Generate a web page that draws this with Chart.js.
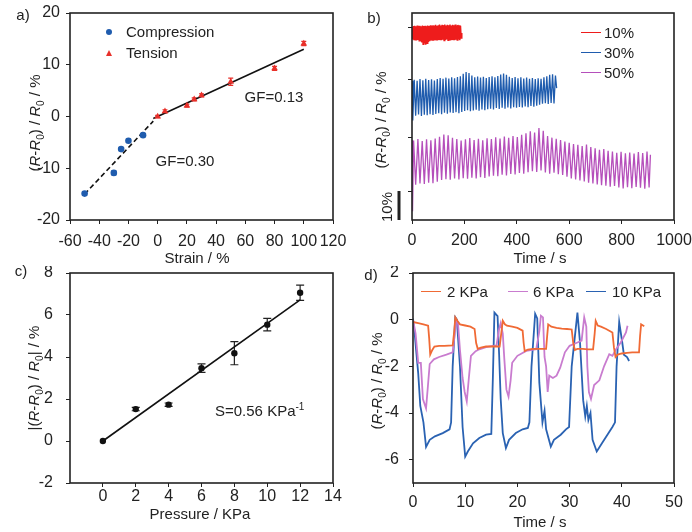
<!DOCTYPE html>
<html>
<head>
<meta charset="utf-8">
<script src="https://cdn.jsdelivr.net/npm/chart.js@4.4.1/dist/chart.umd.min.js"></script>
<style>
  body { margin: 0; background: #fff; }
  #wrap { position: relative; width: 692px; height: 532px; font-family: "Liberation Sans", Arial, sans-serif; color: #222; }
  canvas { position: absolute; }
  .t { position: absolute; font-size: 15px; white-space: nowrap; line-height: 1; }
  .c { transform: translate(-50%, -50%); }
  .v { transform: translate(-50%, -50%) rotate(-90deg); }
  .l { transform: translateY(-50%); }
  sub { font-size: 10px; vertical-align: -4px; line-height: 0; font-style: normal; }
  sup { font-size: 10px; vertical-align: 6px; line-height: 0; }
  .ln { position: absolute; height: 0; border-top: 1.8px solid; }
</style>
</head>
<body>
<div id="wrap">
  <canvas id="ca" width="346" height="266" style="left:0;top:0"></canvas>
  <canvas id="cb" width="346" height="266" style="left:346px;top:0"></canvas>
  <canvas id="cc" width="346" height="266" style="left:0;top:266px"></canvas>
  <canvas id="cd" width="346" height="266" style="left:346px;top:266px"></canvas>

  <!-- panel letters -->
  <div class="t c" style="left:23px;top:14px">a)</div>
  <div class="t c" style="left:374px;top:17px">b)</div>
  <div class="t c" style="left:21px;top:270px">c)</div>
  <div class="t c" style="left:371px;top:274px">d)</div>

  <!-- axis titles -->
  <div class="t c" style="left:197px;top:257px">Strain / %</div>
  <div class="t c" style="left:540px;top:257px">Time / s</div>
  <div class="t c" style="left:200px;top:513px">Pressure / KPa</div>
  <div class="t c" style="left:540px;top:521px">Time / s</div>
  <div class="t v" style="left:34px;top:123px">(<i>R</i>-<i>R</i><sub>0</sub>) / <i>R</i><sub>0</sub> / %</div>
  <div class="t v" style="left:380px;top:120px">(<i>R</i>-<i>R</i><sub>0</sub>) / <i>R</i><sub>0</sub> / %</div>
  <div class="t v" style="left:33px;top:378px">|(<i>R</i>-<i>R</i><sub>0</sub>) / <i>R</i><sub>0</sub>| / %</div>
  <div class="t v" style="left:376px;top:381px">(<i>R</i>-<i>R</i><sub>0</sub>) / <i>R</i><sub>0</sub> / %</div>

  <!-- annotations -->
  <div class="t c" style="left:274px;top:96px">GF=0.13</div>
  <div class="t c" style="left:185px;top:160px">GF=0.30</div>
  <div class="t l" style="left:215px;top:410px">S=0.56 KPa<sup>-1</sup></div>
  <div class="t v" style="left:386px;top:207px">10%</div>

  <!-- legend a -->
  <div style="position:absolute;left:106px;top:29px;width:6px;height:6px;border-radius:50%;background:#1f5cae"></div>
  <div style="position:absolute;left:105.5px;top:49.5px;width:0;height:0;border-left:3.5px solid transparent;border-right:3.5px solid transparent;border-bottom:6px solid #e8302a"></div>
  <div class="t l" style="left:126px;top:31px">Compression</div>
  <div class="t l" style="left:126px;top:52px">Tension</div>

  <!-- legend b -->
  <div class="ln" style="left:581px;top:32px;width:20px;border-color:#ee1c1c"></div>
  <div class="ln" style="left:581px;top:52px;width:20px;border-color:#1f5cae"></div>
  <div class="ln" style="left:581px;top:72px;width:20px;border-color:#b54fbb"></div>
  <div class="t l" style="left:604px;top:32px">10%</div>
  <div class="t l" style="left:604px;top:52px">30%</div>
  <div class="t l" style="left:604px;top:72px">50%</div>

  <!-- legend d -->
  <div class="ln" style="left:421px;top:291px;width:20px;border-color:#f06a35"></div>
  <div class="ln" style="left:508px;top:291px;width:20px;border-color:#c97ccf"></div>
  <div class="ln" style="left:586px;top:291px;width:20px;border-color:#2a62b2"></div>
  <div class="t l" style="left:447px;top:291px">2 KPa</div>
  <div class="t l" style="left:533px;top:291px">6 KPa</div>
  <div class="t l" style="left:612px;top:291px">10 KPa</div>
</div>

<script>
// ---- panel a: strain response ----
const compStrain = [-50, -30, -25, -20, -10];
const compResp   = [-14.9, -10.9, -6.3, -4.7, -3.6];
const compErr    = [0.3, 0.4, 0.3, 0.3, 0.3];
const tensStrain = [0, 5, 20, 25, 30, 50, 80, 100];
const tensResp   = [0.0, 1.0, 2.1, 3.3, 4.1, 6.7, 9.3, 14.1];
const tensErr    = [0.2, 0.3, 0.3, 0.3, 0.3, 0.7, 0.4, 0.4];
const fitCompression = [[-50, -15.0], [-3, -0.9]];
const fitTension     = [[-3, -0.4], [100, 13.0]];
const ticksAX = [-60, -40, -20, 0, 20, 40, 60, 80, 100, 120];
const ticksAY = [-20, -10, 0, 10, 20];

// ---- panel b: cycling at 10 / 30 / 50 % strain (curves offset, unitless axis) ----
const cyc10 = [[0,66.5],[2.5,62.3],[5,66.9],[7.5,62.0],[10,67.0],[12.5,62.2],[15,66.8],[17.5,61.9],[20,67.1],[22.5,62.1],
  [25,66.9],[27.5,61.8],[30,67.0],[32.5,61.6],[35,66.8],[37.5,61.2],[40,67.1],[42.5,60.6],[45,66.9],[47.5,60.9],
  [50,67.0],[52.5,60.5],[55,66.8],[57.5,61.0],[60,67.1],[62.5,61.4],[65,66.9],[67.5,61.7],[70,67.2],[72.5,61.9],
  [75,67.0],[77.5,62.1],[80,67.2],[82.5,61.8],[85,67.1],[87.5,62.0],[90,67.3],[92.5,62.2],[95,67.0],[97.5,61.9],
  [100,67.2],[102.5,62.1],[105,67.4],[107.5,62.3],[110,67.1],[112.5,62.0],[115,67.3],[117.5,62.2],[120,67.2],[122.5,61.9],
  [125,67.4],[127.5,62.1],[130,67.1],[132.5,62.3],[135,67.3],[137.5,62.0],[140,67.2],[142.5,62.2],[145,67.4],[147.5,61.9],
  [150,67.1],[152.5,62.1],[155,67.3],[157.5,62.3],[160,67.2],[162.5,62.0],[165,67.4],[167.5,62.2],[170,67.1],[172.5,62.1],
  [175,67.3],[177.5,62.3],[180,67.2],[182.5,62.0],[185,67.0],[187.5,62.8],[190,64.5]];
const cyc30 = [[0,48.0],[3,34.3],[8.5,48.4],[14,36.0],[19.5,48.0],[25,36.4],[30.5,48.6],[36,35.9],[41.5,48.2],[47,36.3],
  [52.5,48.7],[58,36.1],[63.5,48.3],[69,36.5],[74.5,48.5],[80,36.2],[85.5,48.1],[91,36.6],[96.5,48.6],[102,36.8],
  [107.5,49.0],[113,36.5],[118.5,48.7],[124,37.0],[129.5,49.1],[135,36.7],[140.5,48.8],[146,37.1],[151.5,49.2],[157,36.9],
  [162.5,48.9],[168,37.2],[173.5,49.3],[179,36.8],[184.5,49.6],[190,37.3],[195.5,50.4],[201,37.6],[206.5,51.0],[212,37.9],
  [217.5,50.7],[223,37.5],[228.5,49.8],[234,37.8],[239.5,49.2],[245,38.0],[250.5,49.5],[256,37.7],[261.5,49.1],[267,38.1],
  [272.5,49.4],[278,37.9],[283.5,49.0],[289,38.2],[294.5,49.3],[300,38.4],[305.5,49.6],[311,38.1],[316.5,49.2],[322,38.6],
  [327.5,49.7],[333,38.3],[338.5,50.2],[344,38.7],[349.5,50.5],[355,38.4],[360.5,50.1],[366,38.8],[371.5,49.4],[377,38.5],
  [382.5,49.0],[388,38.9],[393.5,49.3],[399,38.7],[404.5,48.9],[410,39.0],[415.5,49.2],[421,38.8],[426.5,48.8],[432,39.2],
  [437.5,49.1],[443,38.9],[448.5,48.7],[454,39.3],[459.5,49.0],[465,39.1],[470.5,48.6],[476,39.4],[481.5,48.9],[487,39.8],
  [492.5,48.7],[498,40.1],[503.5,49.2],[509,40.3],[514.5,49.6],[520,40.0],[525.5,50.1],[531,40.4],[536.5,50.3],[542,40.2],
  [547.5,49.8],[552,45.5]];
const cyc50 = [[0,27.5],[2,3.0],[6,27.4],[14,12.2],[22.5,27.9],[30.5,12.6],[39,27.2],[47,12.4],[55.5,27.8],[63.5,12.9],
  [72,27.5],[80,12.7],[88.5,28.1],[96.5,13.2],[105,28.7],[113,13.8],[121.5,29.5],[129.5,14.1],[138,29.2],[146,13.9],
  [154.5,28.4],[162.5,14.3],[171,27.9],[179,14.0],[187.5,27.4],[195.5,14.4],[204,27.8],[212,14.2],[220.5,28.3],[228.5,14.6],
  [237,27.6],[245,14.3],[253.5,28.0],[261.5,14.8],[270,27.5],[278,14.5],[286.5,28.2],[294.5,15.0],[303,27.9],[311,15.3],
  [319.5,28.5],[327.5,15.1],[336,28.1],[344,15.6],[352.5,28.8],[360.5,15.4],[369,28.4],[377,15.9],[385.5,29.0],[393.5,15.7],
  [402,28.6],[410,16.2],[418.5,29.4],[426.5,16.0],[435,29.9],[443,16.5],[451.5,30.6],[459.5,16.8],[468,30.2],[476,16.6],
  [484.5,31.7],[492.5,17.1],[501,30.8],[509,16.4],[517.5,29.0],[525.5,16.0],[534,28.4],[542,16.3],[550.5,28.0],[558.5,15.8],
  [567,27.6],[575,15.5],[583.5,27.1],[591.5,14.9],[600,26.6],[608,14.3],[616.5,26.2],[624.5,14.0],[633,25.9],[641,13.6],
  [649.5,25.5],[657.5,13.3],[666,26.0],[674,12.9],[682.5,25.2],[690.5,12.6],[699,24.7],[707,12.3],[715.5,24.2],[723.5,12.0],
  [732,24.5],[740,11.8],[748.5,23.9],[756.5,11.5],[765,23.6],[773,11.7],[781.5,23.2],[789.5,11.2],[798,23.5],[806,10.9],
  [814.5,23.0],[822.5,11.3],[831,23.3],[839,11.0],[847.5,22.9],[855.5,11.4],[864,23.4],[872,11.1],[880.5,23.1],[888.5,10.8],
  [897,23.6],[905,11.2],[910,22.5]];
const scaleBar10 = [0, 10];
const ticksBX = [0, 200, 400, 600, 800, 1000];
const ticksBY = [9.7, 28.6, 48.3, 66.5];

// ---- panel c: pressure sensitivity ----
const pressure   = [0, 2, 4, 6, 8, 10, 12];
const pressResp  = [0, 1.52, 1.73, 3.47, 4.18, 5.54, 7.06];
const pressErr   = [0, 0.08, 0.08, 0.2, 0.55, 0.3, 0.36];
const fitPressure = [[0, 0], [12, 6.72]];
const ticksCX = [0, 2, 4, 6, 8, 10, 12, 14];
const ticksCY = [-2, 0, 2, 4, 6, 8];

// ---- panel d: pressure cycling ----
const kpa2 = [[0,-0.1],[1,-0.15],[2,-0.2],[2.9,-0.26],[3.1,-0.8],[3.3,-1.5],[3.7,-1.3],[4.1,-1.15],[5,-1.12],[6,-1.12],
  [7.6,-1.1],[7.9,-0.5],[8.1,0.1],[8.5,-0.05],[9,-0.2],[10,-0.25],[11,-0.3],[11.8,-0.4],[12.1,-1.0],[12.4,-1.25],
  [13,-1.2],[14,-1.15],[15,-1.15],[16.6,-1.15],[16.9,-0.6],[17.2,-0.05],[17.6,-0.2],[18,-0.26],[19,-0.3],[20,-0.35],
  [21,-0.47],[21.2,-1.0],[21.4,-1.35],[22,-1.28],[23,-1.25],[24,-1.25],[25.5,-1.25],[25.7,-0.7],[25.9,-0.2],[26.5,-0.3],
  [27.5,-0.35],[28.5,-0.38],[29.5,-0.4],[30.4,-0.42],[30.7,-1.0],[31,-1.3],[31.5,-1.25],[32.5,-1.25],[33.5,-1.27],[34.5,-1.27],
  [34.8,-0.6],[35,-0.05],[35.4,-0.25],[36,-0.3],[37,-0.4],[38.2,-0.55],[38.5,-1.2],[38.8,-1.6],[39.2,-1.5],[40,-1.45],
  [41,-1.42],[42,-1.4],[43.3,-1.4],[43.5,-0.7],[43.7,-0.2],[44.3,-0.28]];
const kpa6 = [[0,0],[0.5,-0.6],[1,-1.85],[1.5,-1.85],[1.9,-3.4],[2.2,-3.6],[2.5,-3.8],[2.8,-3.0],[3.2,-1.9],[4,-1.7],
  [5,-1.6],[6.4,-1.5],[7.6,-1.4],[8,-0.6],[8.3,0],[8.6,-0.1],[9,-1.3],[9.5,-2.5],[9.9,-3.1],[10.3,-3.5],
  [10.7,-2.5],[11.1,-1.55],[12,-1.35],[12.7,-1.27],[14,-1.18],[15.3,-1.12],[16,-1.1],[16.5,-0.4],[16.8,-0.15],[17.2,-0.6],
  [17.5,-1.7],[17.9,-3.0],[18.3,-3.3],[18.7,-2.6],[19,-1.85],[20,-1.55],[21.7,-1.34],[23.6,-1.27],[24.2,-0.5],[24.5,0.17],
  [24.9,0.1],[25.2,-1.6],[25.5,-2.0],[25.8,-3.1],[26.1,-2.4],[26.8,-2.5],[27.5,-2.4],[28.2,-2.06],[29.1,-1.4],[30,-1.12],
  [31.5,-0.98],[32.3,-0.9],[32.8,0.1],[33.2,-0.3],[33.4,-2.0],[33.7,-3.1],[34.1,-3.4],[34.7,-2.8],[35.7,-2.6],[36.6,-2.0],
  [37.6,-1.48],[38.2,-1.55],[38.9,-1.27],[39.8,-0.98],[40.8,-0.55],[41.1,-0.26]];
const kpa10 = [[0,0.05],[0.3,-0.55],[1,-2.3],[1.4,-3.7],[2,-4.4],[2.5,-5.45],[3.2,-5.15],[4.2,-5.0],[5.7,-4.86],[7,-4.7],
  [7.3,-4.4],[7.6,-2.0],[8.1,0.1],[8.4,0.0],[9,-2.0],[9.5,-4.6],[10,-5.87],[10.5,-5.65],[11.5,-5.3],[12.7,-5.07],
  [14,-4.93],[15,-4.9],[15.3,-2.5],[15.6,0.3],[16.2,0.15],[16.5,-1.5],[16.8,-3.4],[17.2,-4.86],[17.8,-5.5],[18.4,-5.15],
  [19.7,-4.86],[21,-4.7],[22,-4.64],[22.3,-4.4],[22.7,-2.0],[23.4,0.25],[23.8,0.05],[24.2,-2.7],[24.8,-4.4],[25.2,-3.9],
  [25.5,-4.7],[26.4,-5.44],[27,-5.15],[28.3,-4.93],[29.3,-4.7],[29.9,-4.6],[30.4,-2.0],[31.5,0.3],[32,-1.0],[32.6,-3.45],
  [33,-4.15],[33.3,-3.7],[33.6,-4.3],[34,-4.0],[34.4,-5.15],[35.2,-5.65],[36.2,-5.3],[38.2,-4.6],[38.7,-4.4],[39,-2.0],
  [39.5,-0.1],[40.1,-1.0],[40.4,-1.5],[41,-1.6],[41.4,-1.77]];
const ticksDX = [0, 10, 20, 30, 40, 50];
const ticksDY = [-6, -4, -2, 0, 2];

const BLUE = '#1f5cae', RED = '#e8302a', RED_B = '#ee1c1c', PURPLE_B = '#b54fbb';
const ORANGE = '#f06a35', PURPLE_D = '#c97ccf', BLUE_D = '#2a62b2', INK = '#222';

Chart.defaults.font.family = '"Liberation Sans", Arial, sans-serif';
Chart.defaults.font.size = 16;
Chart.defaults.color = INK;

const toPts = (xs, ys) => xs.map((x, i) => ({ x, y: ys[i] }));
const fromPairs = arr => arr.map(([x, y]) => ({ x, y }));

// box around the plot area
const framePlugin = {
  id: 'frame',
  afterDatasetsDraw(chart) {
    const { ctx, chartArea: a } = chart;
    ctx.save();
    ctx.strokeStyle = INK;
    ctx.lineWidth = 1.6;
    ctx.setLineDash([]);
    ctx.strokeRect(a.left, a.top, a.right - a.left, a.bottom - a.top);
    ctx.restore();
  }
};

// vertical error bars from ds.errorBars
const errorBarPlugin = {
  id: 'errorBars',
  beforeDatasetsDraw(chart) {
    const { ctx, scales: { x, y } } = chart;
    chart.data.datasets.forEach(ds => {
      if (!ds.errorBars) return;
      ctx.save();
      ctx.strokeStyle = ds.errorColor || INK;
      ctx.lineWidth = 1.2;
      const w = ds.capWidth || 3;
      ds.data.forEach((p, j) => {
        const e = ds.errorBars[j];
        if (!e) return;
        const px = x.getPixelForValue(p.x);
        const top = y.getPixelForValue(p.y + e);
        const bot = y.getPixelForValue(p.y - e);
        ctx.beginPath();
        ctx.moveTo(px, top); ctx.lineTo(px, bot);
        ctx.moveTo(px - w, top); ctx.lineTo(px + w, top);
        ctx.moveTo(px - w, bot); ctx.lineTo(px + w, bot);
        ctx.stroke();
      });
      ctx.restore();
    });
  }
};

// 10% scale bar left of panel b
const scaleBarPlugin = {
  id: 'scaleBar',
  afterDraw(chart) {
    const { ctx, chartArea: a, scales: { y } } = chart;
    const x0 = a.left - 13;
    ctx.save();
    ctx.strokeStyle = INK;
    ctx.lineWidth = 3;
    ctx.beginPath();
    ctx.moveTo(x0, y.getPixelForValue(scaleBar10[0]));
    ctx.lineTo(x0, y.getPixelForValue(scaleBar10[1]));
    ctx.stroke();
    ctx.restore();
  }
};

function axis(min, max, ticks, size, pad, opts = {}) {
  return Object.assign({
    type: 'linear', min, max,
    afterBuildTicks: s => { s.ticks = ticks.map(v => ({ value: v })); },
    ticks: { padding: pad, color: INK, maxRotation: 0, minRotation: 0, autoSkip: false, callback: v => String(v) },
    grid: { drawOnChartArea: false, drawTicks: true, tickLength: 4, color: INK, lineWidth: 1 },
    border: { display: false },
    afterFit: s => {
      if (s.isHorizontal()) s.height = size; else s.width = size;
      s.paddingTop = s.paddingBottom = s.paddingLeft = s.paddingRight = 0;
    }
  }, opts);
}

function baseOptions(padding, scales) {
  return {
    responsive: false, devicePixelRatio: 1, animation: false,
    layout: { padding },
    plugins: { legend: { display: false }, tooltip: { enabled: false } },
    scales
  };
}

// ---- chart a ----
new Chart(document.getElementById('ca'), {
  type: 'scatter',
  data: { datasets: [
    { data: toPts(compStrain, compResp), errorBars: compErr, errorColor: BLUE, capWidth: 2.5,
      pointStyle: 'circle', pointRadius: 3.3, backgroundColor: BLUE, borderColor: BLUE, borderWidth: 0 },
    { data: toPts(tensStrain, tensResp), errorBars: tensErr, errorColor: RED, capWidth: 2.5,
      pointStyle: 'triangle', pointRadius: 3.8, backgroundColor: RED, borderColor: RED, borderWidth: 0 },
    { data: fromPairs(fitCompression), showLine: true, borderColor: '#111', borderWidth: 1.6, borderDash: [5, 3], pointRadius: 0 },
    { data: fromPairs(fitTension), showLine: true, borderColor: '#111', borderWidth: 1.6, pointRadius: 0 }
  ] },
  options: baseOptions({ top: 13, right: 13, left: 0, bottom: 0 }, {
    x: axis(-60, 120, ticksAX, 46, 8),
    y: axis(-20, 20, ticksAY, 70, 6)
  }),
  plugins: [framePlugin, errorBarPlugin]
});

// ---- chart b ----
const lineDs = (pairs, color, w) => ({ data: fromPairs(pairs), borderColor: color, borderWidth: w, pointRadius: 0, tension: 0, fill: false });
new Chart(document.getElementById('cb'), {
  type: 'line',
  data: { datasets: [lineDs(cyc10, RED_B, 1.5), lineDs(cyc30, BLUE, 1.3), lineDs(cyc50, PURPLE_B, 1.3)] },
  options: baseOptions({ top: 13, right: 18, left: 0, bottom: 0 }, {
    x: axis(0, 1000, ticksBX, 46, 7),
    y: axis(0, 71.4, ticksBY, 66, 0, { ticks: { callback: () => '', padding: 0 } })
  }),
  plugins: [framePlugin, scaleBarPlugin]
});

// ---- chart c ----
new Chart(document.getElementById('cc'), {
  type: 'scatter',
  data: { datasets: [
    { data: toPts(pressure, pressResp), errorBars: pressErr, capWidth: 4,
      pointStyle: 'circle', pointRadius: 3.2, backgroundColor: '#111', borderColor: '#111', borderWidth: 0 },
    { data: fromPairs(fitPressure), showLine: true, borderColor: '#111', borderWidth: 1.6, pointRadius: 0 }
  ] },
  options: baseOptions({ top: 7, right: 13, left: 0, bottom: 0 }, {
    x: axis(-2, 14, ticksCX, 49, 0),
    y: axis(-2, 8, ticksCY, 70, 13)
  }),
  plugins: [framePlugin, errorBarPlugin]
});

// ---- chart d ----
new Chart(document.getElementById('cd'), {
  type: 'line',
  data: { datasets: [lineDs(kpa2, ORANGE, 1.8), lineDs(kpa6, PURPLE_D, 1.8), lineDs(kpa10, BLUE_D, 1.8)] },
  options: baseOptions({ top: 7, right: 18, left: 0, bottom: 0 }, {
    x: axis(0, 50, ticksDX, 49, 6),
    y: axis(-7, 2, ticksDY, 67, 10)
  }),
  plugins: [framePlugin]
});
</script>
</body>
</html>
